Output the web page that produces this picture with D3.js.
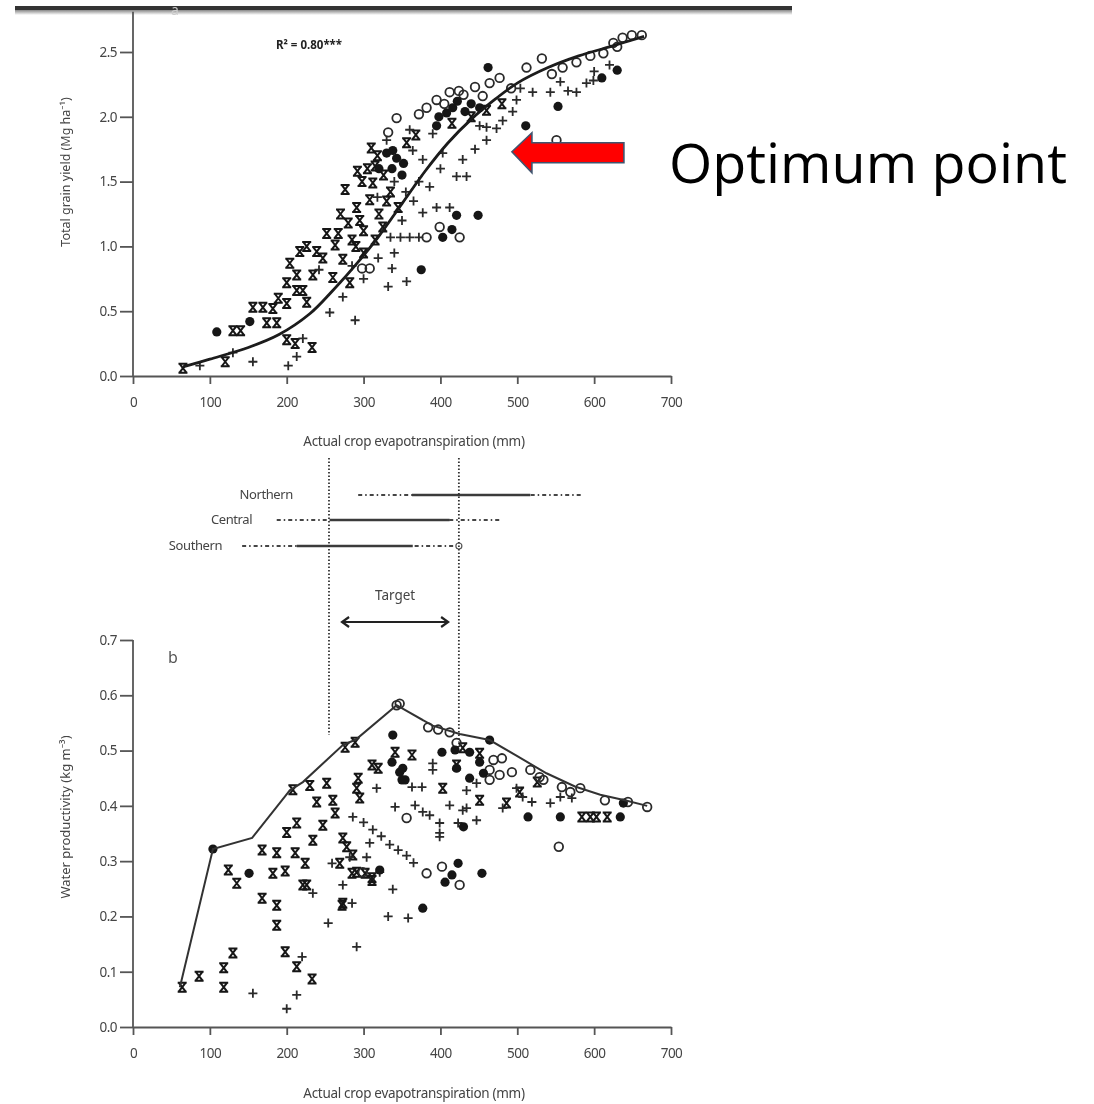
<!DOCTYPE html>
<html><head><meta charset="utf-8">
<script src="https://cdn.jsdelivr.net/npm/d3@7"></script>
<style>
body{margin:0;background:#fff}
text{font-family:"Noto Sans","Open Sans",sans-serif}
</style></head>
<body><svg id="c" width="1094" height="1104"></svg>
<script>
// ---------- tick labels ----------
const xTicks = [0,100,200,300,400,500,600,700];
const yTopTicks = [0,0.5,1.0,1.5,2.0,2.5];
const yBotTicks = [0,0.1,0.2,0.3,0.4,0.5,0.6,0.7];

// ---------- panel a: total grain yield (Mg/ha) vs ET (mm) ----------
const topFilled = [[109,0.34],[152,0.42],[375,0.82],[421,1.24],[449,1.24],[403,1.07],[415,1.13],[338,1.74],[337,1.6],[352,1.64],[350,1.55],[330,1.72],[343,1.68],[462,2.38],[511,1.93],[553,2.08],[610,2.3],[630,2.36],[416,2.07],[451,2.07],[398,2.0],[408,2.03],[422,2.12],[440,2.1],[432,2.04],[395,1.93],[320,1.6]];
const topOpen = [[343,1.99],[332,1.88],[382,2.07],[395,2.13],[412,2.19],[430,2.17],[445,2.23],[464,2.26],[477,2.3],[512,2.38],[532,2.45],[559,2.38],[577,2.42],[612,2.49],[625,2.57],[630,2.54],[637,2.61],[649,2.63],[662,2.63],[382,1.07],[399,1.15],[425,1.07],[298,0.83],[308,0.83],[405,2.1],[424,2.2],[455,2.16],[492,2.22],[545,2.33],[595,2.47],[551,1.82],[372,2.02]];
const topX = [[65,0.06],[120,0.11],[130,0.35],[140,0.35],[156,0.53],[169,0.53],[182,0.52],[174,0.41],[187,0.41],[189,0.6],[200,0.56],[200,0.72],[213,0.66],[221,0.66],[226,0.57],[213,0.78],[234,0.78],[204,0.87],[217,0.96],[226,1.0],[239,0.96],[247,0.91],[252,1.1],[267,1.1],[263,1.01],[260,0.76],[273,0.9],[200,0.28],[211,0.25],[233,0.22],[276,1.44],[291,1.3],[312,1.49],[295,1.2],[308,1.36],[285,1.05],[300,1.12],[320,1.25],[330,1.35],[305,1.6],[318,1.7],[326,1.55],[292,1.58],[310,1.76],[335,1.42],[345,1.3],[356,1.8],[368,1.86],[415,1.95],[440,2.0],[460,2.05],[480,2.1],[300,0.95],[315,1.05],[282,0.72],[298,1.5],[315,1.62],[280,1.18],[270,1.25],[325,1.15],[290,1.0]];
const topPlus = [[87,0.08],[130,0.18],[156,0.11],[202,0.08],[213,0.15],[221,0.29],[256,0.49],[289,0.43],[273,0.61],[337,0.83],[332,0.69],[356,0.73],[319,0.91],[335,1.07],[348,1.07],[360,1.07],[372,1.07],[390,1.87],[364,1.74],[377,1.67],[403,1.72],[429,1.67],[421,1.54],[434,1.54],[386,1.46],[395,1.3],[412,1.3],[377,1.26],[504,2.22],[520,2.19],[543,2.19],[556,2.27],[577,2.19],[590,2.26],[599,2.28],[566,2.2],[499,2.13],[494,2.04],[481,1.97],[473,1.91],[460,1.92],[451,1.93],[350,1.2],[365,1.35],[340,0.95],[300,0.75],[285,0.85],[242,0.82],[400,1.6],[445,1.75],[460,1.82],[620,2.4],[600,2.35],[340,1.5],[355,1.42],[372,1.5],[330,1.82],[360,1.9],[318,1.38]];
const topCurve = [[65,0.07],[100,0.13],[150,0.22],[190,0.32],[230,0.48],[260,0.66],[290,0.86],[320,1.08],[350,1.33],[380,1.58],[410,1.8],[440,1.98],[470,2.13],[500,2.26],[540,2.38],[580,2.47],[620,2.54],[665,2.62]];

// ---------- panel b: water productivity (kg/m3) vs ET (mm) ----------
const botFilled = [[104,0.322],[151,0.278],[338,0.528],[337,0.479],[351,0.468],[350,0.447],[354,0.447],[347,0.461],[402,0.497],[419,0.501],[438,0.497],[464,0.519],[456,0.459],[438,0.45],[421,0.468],[451,0.479],[514,0.38],[556,0.38],[634,0.38],[638,0.405],[430,0.362],[423,0.296],[415,0.275],[406,0.262],[454,0.278],[377,0.215],[321,0.284]];
const botOpen = [[343,0.582],[347,0.585],[384,0.542],[397,0.538],[412,0.533],[421,0.514],[469,0.483],[480,0.486],[464,0.465],[477,0.456],[493,0.461],[464,0.447],[517,0.465],[529,0.452],[534,0.447],[558,0.434],[569,0.425],[582,0.432],[614,0.41],[644,0.407],[669,0.398],[554,0.326],[356,0.378],[382,0.278],[402,0.29],[425,0.257],[299,0.28]];
const botX = [[64,0.072],[86,0.092],[118,0.107],[118,0.072],[130,0.134],[124,0.284],[135,0.26],[182,0.278],[198,0.282],[168,0.233],[187,0.22],[187,0.184],[198,0.136],[213,0.109],[233,0.087],[221,0.257],[224,0.296],[272,0.22],[285,0.278],[302,0.278],[311,0.265],[276,0.506],[289,0.515],[208,0.429],[230,0.437],[252,0.441],[239,0.407],[260,0.41],[263,0.387],[200,0.352],[213,0.369],[247,0.365],[234,0.338],[168,0.32],[187,0.315],[211,0.315],[273,0.342],[293,0.45],[291,0.432],[295,0.414],[311,0.474],[319,0.468],[341,0.497],[363,0.492],[421,0.474],[403,0.432],[429,0.505],[451,0.495],[503,0.425],[526,0.443],[584,0.38],[595,0.38],[603,0.38],[617,0.38],[486,0.405],[451,0.41],[269,0.296],[291,0.28],[311,0.27],[278,0.326],[286,0.311],[226,0.257],[273,0.224]];
const botPlus = [[156,0.061],[220,0.127],[213,0.058],[200,0.033],[234,0.242],[254,0.188],[285,0.224],[273,0.257],[291,0.145],[332,0.2],[358,0.197],[338,0.249],[321,0.28],[317,0.432],[363,0.434],[376,0.434],[390,0.477],[390,0.465],[341,0.398],[367,0.401],[377,0.389],[386,0.383],[399,0.369],[399,0.344],[423,0.369],[447,0.374],[434,0.396],[286,0.38],[300,0.37],[312,0.357],[323,0.345],[334,0.33],[345,0.32],[356,0.31],[365,0.297],[259,0.296],[282,0.307],[308,0.333],[304,0.307],[499,0.432],[543,0.405],[556,0.416],[571,0.414],[481,0.396],[507,0.416],[519,0.407],[434,0.428],[412,0.401],[429,0.392],[447,0.441],[399,0.351]];
const botLine = [[61,0.072],[104,0.322],[155,0.342],[204,0.428],[221,0.443],[273,0.51],[290,0.52],[343,0.582],[390,0.545],[425,0.53],[464,0.519],[500,0.49],[538,0.459],[575,0.435],[608,0.42],[640,0.41],[669,0.4]];

// ---------- ET ranges by region (mm) ----------
const regions = ["Northern","Central","Southern"];
const regionLabelEnd = [208,155,116];
const regionDotted = [[293,585],[187,477],[142,424]];
const regionSolid = [[363,517],[256,412],[213,364]];
const targetRange = [255,424];
const targetArrow = [272,410];

const r2Label = "R² = 0.80***";
const optimumLabel = "Optimum point";
const arrowTip = [493,1.73];

// ---------- scales ----------
const svg = d3.select("#c");
svg.append("rect").attr("width",1094).attr("height",1104).attr("fill","#fff");
const defs = svg.append("defs");
defs.append("filter").attr("id","soft").append("feGaussianBlur").attr("stdDeviation",0.65);
const grad = defs.append("linearGradient").attr("id","shade").attr("x1",0).attr("y1",0).attr("x2",0).attr("y2",1);
grad.append("stop").attr("offset","0%").attr("stop-color","#888");
grad.append("stop").attr("offset","100%").attr("stop-color","#fff");

const x = d3.scaleLinear().domain([0,700]).range([133,671]);
const yT = d3.scaleLinear().domain([0,2.5]).range([376,52]);
const yB = d3.scaleLinear().domain([0,0.7]).range([1027,640]);

// top frame bar
svg.append("rect").attr("x",15).attr("y",6).attr("width",777).attr("height",4).attr("fill","#333");
svg.append("rect").attr("x",15).attr("y",10).attr("width",777).attr("height",5).attr("fill","url(#shade)");

const g = svg.append("g").attr("filter","url(#soft)");
const axisCol = "#555", textCol = "#444", markCol = "#151515";

function drawAxes(yScale, yTicks, yTopVal, xBase){
  const xa = g.append("g").attr("transform",`translate(0,${xBase})`)
    .call(d3.axisBottom(x).tickValues(xTicks).tickSize(8).tickPadding(13).tickSizeOuter(0));
  const ya = g.append("g").attr("transform","translate(133,0)")
    .call(d3.axisLeft(yScale).tickValues(yTicks).tickFormat(d3.format(".1f")).tickSize(13).tickPadding(3).tickSizeOuter(0));
  ya.select(".domain").remove();
  g.append("line").attr("x1",133).attr("x2",133).attr("y1",yScale(0)).attr("y2",yScale(yTopVal))
    .attr("stroke",axisCol).attr("stroke-width",1.8);
  [xa,ya].forEach(a=>{
    a.selectAll("path,line").attr("stroke",axisCol).attr("stroke-width",1.8);
    a.selectAll("text").attr("fill",textCol).style("font-size","13.5px").style("letter-spacing","-0.5px").style("font-family","'Noto Sans',sans-serif");
  });
}
drawAxes(yT, yTopTicks, 2.81, 376);
drawAxes(yB, yBotTicks, 0.7, 1027);

// axis titles
const xTitle = "Actual crop evapotranspiration (mm)";
g.append("text").attr("x",414).attr("y",446).attr("text-anchor","middle").attr("fill",textCol).style("font-size","13.5px").style("letter-spacing","-0.3px").text(xTitle);
g.append("text").attr("x",414).attr("y",1098).attr("text-anchor","middle").attr("fill",textCol).style("font-size","13.5px").style("letter-spacing","-0.3px").text(xTitle);
g.append("text").attr("transform","translate(70,172) rotate(-90)").attr("text-anchor","middle").attr("fill",textCol).style("font-size","12.5px").text("Total grain yield (Mg ha⁻¹)");
g.append("text").attr("transform","translate(70,817) rotate(-90)").attr("text-anchor","middle").attr("fill",textCol).style("font-size","13px").text("Water productivity (kg m⁻³)");
g.append("text").attr("x",173).attr("y",663).attr("text-anchor","middle").attr("fill","#555").style("font-size","16px").text("b");
g.append("text").attr("x",175).attr("y",15).attr("text-anchor","middle").attr("fill","#ccc").style("font-size","14px").text("a");
g.append("text").attr("x",x(186)).attr("y",49).attr("fill","#222").style("font-size","11.5px").style("font-weight","bold").text(r2Label);

// marks
const xPath = "M-4.5,-4.5L4.5,-4.5M-4.5,4.5L4.5,4.5M-3.5,-4.5L3.5,4.5M3.5,-4.5L-3.5,4.5";
const plusPath = "M-4.5,0L4.5,0M0,-4.5L0,4.5";
function drawMarks(yScale, filled, open, xs, plus){
  g.append("g").selectAll("path").data(xs).join("path")
    .attr("d",xPath).attr("transform",d=>`translate(${x(d[0])},${yScale(d[1])})`)
    .attr("stroke",markCol).attr("stroke-width",2).attr("fill","none");
  g.append("g").selectAll("path").data(plus).join("path")
    .attr("d",plusPath).attr("transform",d=>`translate(${x(d[0])},${yScale(d[1])})`)
    .attr("stroke","#2a2a2a").attr("stroke-width",1.8).attr("fill","none");
  g.append("g").selectAll("circle").data(open).join("circle")
    .attr("cx",d=>x(d[0])).attr("cy",d=>yScale(d[1])).attr("r",4.3)
    .attr("stroke","#2a2a2a").attr("stroke-width",1.8).attr("fill","none");
  g.append("g").selectAll("circle").data(filled).join("circle")
    .attr("cx",d=>x(d[0])).attr("cy",d=>yScale(d[1])).attr("r",4.6)
    .attr("fill",markCol);
}
drawMarks(yT, topFilled, topOpen, topX, topPlus);
drawMarks(yB, botFilled, botOpen, botX, botPlus);

// fitted curve (panel a) and upper envelope (panel b)
g.append("path").datum(topCurve).attr("d",d3.line().x(d=>x(d[0])).y(d=>yT(d[1])).curve(d3.curveCatmullRom))
  .attr("fill","none").attr("stroke","#1a1a1a").attr("stroke-width",2.8);
g.append("path").datum(botLine).attr("d",d3.line().x(d=>x(d[0])).y(d=>yB(d[1])))
  .attr("fill","none").attr("stroke","#333").attr("stroke-width",2);

// ET range diagram
const rowY = [495,520,546];
const dashDot = "4,3,1.5,3";
regions.forEach((r,i)=>{
  g.append("text").attr("x",x(regionLabelEnd[i])).attr("y",rowY[i]+4).attr("text-anchor","end")
    .attr("fill",textCol).style("font-size","13px").style("letter-spacing","-0.4px").text(r);
  g.append("line").attr("x1",x(regionDotted[i][0])).attr("x2",x(regionDotted[i][1])).attr("y1",rowY[i]).attr("y2",rowY[i])
    .attr("stroke","#444").attr("stroke-width",1.8).attr("stroke-dasharray",dashDot);
  g.append("line").attr("x1",x(regionSolid[i][0])).attr("x2",x(regionSolid[i][1])).attr("y1",rowY[i]).attr("y2",rowY[i])
    .attr("stroke","#3a3a3a").attr("stroke-width",2.4);
});
g.append("circle").attr("cx",x(regionDotted[2][1])).attr("cy",rowY[2]).attr("r",3).attr("fill","#fff").attr("stroke","#555").attr("stroke-width",1.2);
targetRange.forEach((v,i)=>{
  g.append("line").attr("x1",x(v)).attr("x2",x(v)).attr("y1",458).attr("y2",i?742:735)
    .attr("stroke","#333").attr("stroke-width",1.8).attr("stroke-dasharray","1.5,2");
});
g.append("text").attr("x",x((targetArrow[0]+targetArrow[1])/2)).attr("y",600).attr("text-anchor","middle")
  .attr("fill",textCol).style("font-size","13.5px").text("Target");
const ty = 622;
g.append("line").attr("x1",x(targetArrow[0])).attr("x2",x(targetArrow[1])).attr("y1",ty).attr("y2",ty).attr("stroke","#222").attr("stroke-width",2.2);
[[targetArrow[0],1],[targetArrow[1],-1]].forEach(([v,s])=>{
  const px = x(v);
  g.append("path").attr("d",`M${px+s*7},${ty-5}L${px},${ty}L${px+s*7},${ty+5}`).attr("fill","none").attr("stroke","#222").attr("stroke-width",2.2);
});

// red annotation arrow and label
const tx = x(arrowTip[0]), tyy = yT(arrowTip[1]);
svg.append("path")
  .attr("d",`M${tx},${tyy}L${tx+20},${tyy-19}L${tx+20},${tyy-9}L${tx+112},${tyy-9}L${tx+112},${tyy+11}L${tx+20},${tyy+11}L${tx+20},${tyy+21}Z`)
  .attr("fill","#ff0000").attr("stroke","#41546e").attr("stroke-width",1.6);
svg.append("text").attr("x",669).attr("y",183).attr("fill","#000")
  .style("font-family","'Open Sans',sans-serif").style("font-size","54px")
  .attr("textLength",398).attr("lengthAdjust","spacingAndGlyphs").text(optimumLabel);
</script></body></html>
